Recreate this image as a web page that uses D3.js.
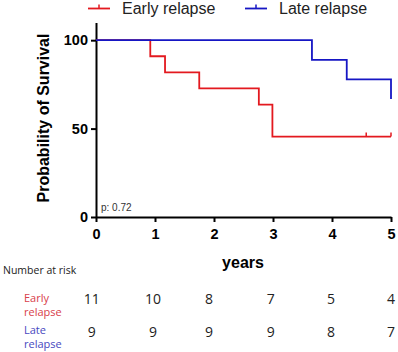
<!DOCTYPE html>
<html><head><meta charset="utf-8">
<script src="https://cdn.jsdelivr.net/npm/d3@7"></script>
<style>body{margin:0;background:#fff}svg{display:block}</style>
</head><body>
<svg id="c" width="398" height="352"></svg>
<script>
const xTicks = [0,1,2,3,4,5];
const yTicks = [0,50,100];
const earlyTime = [0,0.92,1.17,1.75,2.76,2.99,5];
const earlySurv = [100,90.9,81.8,72.7,63.6,45.5,45.5];
const earlyCensor = [4.58,5];
const lateTime = [0,3.66,4.25,5];
const lateSurv = [100,88.9,77.8,66.7];
const lateCensor = [];
const seriesNames = ["Early relapse","Late relapse"];
const riskEarly = [11,10,8,7,5,4];
const riskLate = [9,9,9,9,8,7];
const pText = "p: 0.72";

const red = "#e3191f", blue = "#1616c4";
const svg = d3.select("#c");
const x = d3.scaleLinear().domain([0,5]).range([96,391]);
const y = d3.scaleLinear().domain([0,110]).range([217,22.5]);
const F = "Liberation Sans, Arial, sans-serif";

const xa = svg.append("g").attr("transform","translate(0,217)")
  .call(d3.axisBottom(x).tickValues(xTicks).tickFormat(d3.format("d")).tickSize(5).tickSizeOuter(0).tickPadding(7));
const ya = svg.append("g").attr("transform","translate(96,0)")
  .call(d3.axisLeft(y).tickValues(yTicks).tickFormat(d3.format("d")).tickSize(5).tickSizeOuter(0).tickPadding(3));
[xa,ya].forEach(a=>{
  a.select(".domain").attr("stroke","#000").attr("stroke-width",2);
  a.selectAll(".tick line").attr("stroke","#000").attr("stroke-width",2);
  a.selectAll(".tick text").attr("fill","#000").attr("font-family",F)
   .attr("font-size",14.5).attr("font-weight","bold");
});

svg.append("text").attr("transform","translate(49,118) rotate(-90)").attr("text-anchor","middle")
  .attr("font-family",F).attr("font-size",16).attr("font-weight","bold")
  .text("Probability of Survival");
svg.append("text").attr("x",243).attr("y",268).attr("text-anchor","middle")
  .attr("font-family",F).attr("font-size",16).attr("font-weight","bold")
  .text("years");

const line = d3.line().x(d=>x(d[0])).y(d=>y(d[1])).curve(d3.curveStepAfter);
function drawSeries(t,s,cens,col){
  const pts = t.map((v,i)=>[v,s[i]]);
  svg.append("path").attr("d",line(pts)).attr("fill","none").attr("stroke",col).attr("stroke-width",1.8);
  cens.forEach(c=>{
    let idx = d3.bisectRight(t,c)-1; if(idx<0)idx=0;
    const v = s[idx];
    svg.append("line").attr("x1",x(c)).attr("x2",x(c)).attr("y1",y(v)).attr("y2",y(v)-4)
      .attr("stroke",col).attr("stroke-width",1.5);
  });
}
drawSeries(earlyTime,earlySurv,earlyCensor,red);
drawSeries(lateTime,lateSurv,lateCensor,blue);

svg.append("text").attr("x",101).attr("y",211).attr("font-family",F)
  .attr("font-size",10).attr("fill","#333").text(pText);

const leg = [{x:88,col:red,name:seriesNames[0]},{x:245,col:blue,name:seriesNames[1]}];
leg.forEach(l=>{
  svg.append("line").attr("x1",l.x).attr("x2",l.x+22).attr("y1",8.5).attr("y2",8.5).attr("stroke",l.col).attr("stroke-width",1.8);
  svg.append("line").attr("x1",l.x+11).attr("x2",l.x+11).attr("y1",8.5).attr("y2",4.5).attr("stroke",l.col).attr("stroke-width",1.5);
  svg.append("text").attr("x",l.x+34).attr("y",14).attr("font-family",F)
    .attr("font-size",16).attr("fill","#222").text(l.name);
});

const tf = "Open Sans, Liberation Sans, sans-serif";
svg.append("text").attr("x",3).attr("y",274).attr("font-family",tf).attr("font-size",10.5).attr("fill","#222").text("Number at risk");
const rowLab = [{t:["Early","relapse"],y:[302,316],col:"#d8404a"},{t:["Late","relapse"],y:[334,348],col:"#4848c0"}];
rowLab.forEach(r=>r.t.forEach((tt,i)=>svg.append("text").attr("x",24).attr("y",r.y[i]).attr("font-family",tf)
  .attr("font-size",11).attr("fill",r.col).text(tt)));
const numX = [91.7,153,209,270.7,331,391];
function riskRow(vals,yy){
  svg.append("g").selectAll("text").data(vals).join("text")
    .attr("x",(d,i)=>numX[i]).attr("y",yy).attr("text-anchor","middle")
    .attr("font-family",tf).attr("font-size",14).attr("fill","#222").text(d=>d);
}
riskRow(riskEarly,304);
riskRow(riskLate,337);
</script>
</body></html>
